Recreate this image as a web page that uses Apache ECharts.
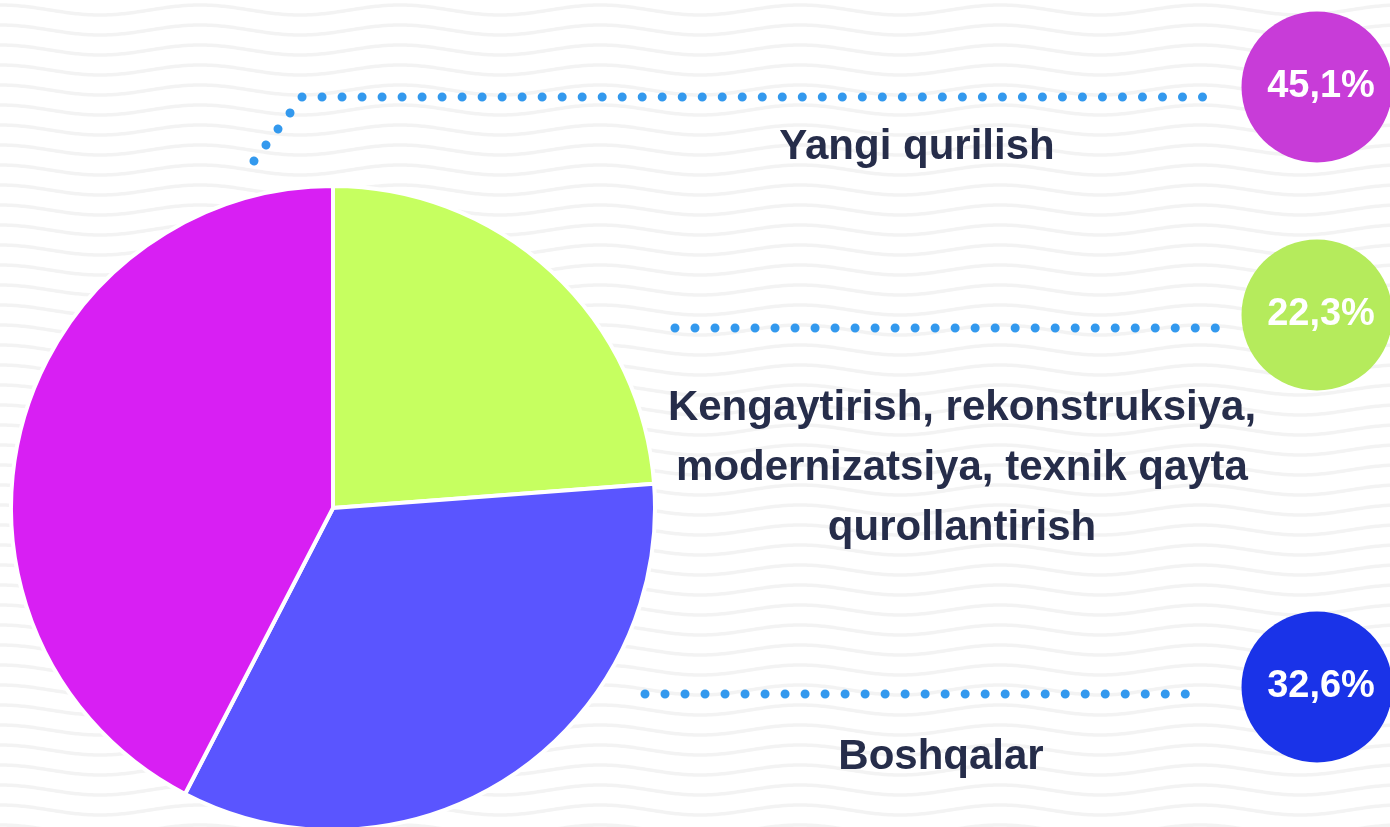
<!DOCTYPE html>
<html>
<head>
<meta charset="utf-8">
<script src="https://cdn.jsdelivr.net/npm/echarts@6/dist/echarts.min.js"></script>
<style>
    html, body { margin: 0; padding: 0; background: #fff; }
    #chart { width: 1390px; height: 827px; }
</style>
</head>
<body>
<div id="chart"></div>
<script>
// data
const categories = [
    "Yangi qurilish",
    "Kengaytirish, rekonstruksiya,\nmodernizatsiya, texnik qayta\nqurollantirish",
    "Boshqalar",
];
// printed percentages
const shareLabels = ["45,1%", "22,3%", "32,6%"];
// slice sizes as drawn in the picture (they don't quite match the printed numbers)
const sliceShares = [42.4, 23.8, 33.8];
// order of slices clockwise from the top
const sliceOrder = [1, 2, 0];

const pieColors = ["#D81FF3", "#C6FF60", "#5A55FF"];
const badgeColors = ["#C83CD8", "#B5EB5C", "#1A33E8"];
const textColor = "#262D4A";
const dotColor = "#3399EE";
const font = "'Liberation Sans', Arial, sans-serif";

// wavy background tile
function waveTile() {
    const c = document.createElement("canvas");
    c.width = 200;
    c.height = 20;
    const ctx = c.getContext("2d");
    ctx.fillStyle = "#fff";
    ctx.fillRect(0, 0, 200, 20);
    ctx.strokeStyle = "#F3F3F3";
    ctx.lineWidth = 3.5;
    ctx.beginPath();
    for (let x = -2; x <= 202; x += 2) {
        const y = 10 - 5 * Math.cos((2 * Math.PI * x) / 200);
        if (x === -2) ctx.moveTo(x, y); else ctx.lineTo(x, y);
    }
    ctx.stroke();
    return c;
}

const badgeY = [87, 315, 687];
const leaders = [
    [[254, 161], [302, 97], [1202.5, 97]],
    [[675, 328], [1215.5, 328]],
    [[645, 694], [1185.5, 694]],
];
const labelPos = [[917, 147], [962, 468], [941, 757]];

const graphics = [];
leaders.forEach((pts) => {
    graphics.push({
        type: "polyline",
        shape: { points: pts },
        style: {
            stroke: dotColor,
            lineWidth: 9,
            lineCap: "round",
            lineJoin: "round",
            lineDash: [0.01, 20],
            fill: null,
        },
        silent: true,
    });
});
shareLabels.forEach((txt, i) => {
    graphics.push({
        type: "circle",
        shape: { cx: 1317, cy: badgeY[i], r: 75.5 },
        style: { fill: badgeColors[i] },
        silent: true,
    });
    graphics.push({
        type: "text",
        x: 1321,
        y: badgeY[i],
        style: {
            text: txt,
            fill: "#fff",
            font: `bold 38px ${font}`,
            textAlign: "center",
            textVerticalAlign: "middle",
        },
        silent: true,
    });
});
categories.forEach((name, i) => {
    graphics.push({
        type: "text",
        x: labelPos[i][0],
        y: labelPos[i][1],
        style: {
            text: name,
            fill: textColor,
            font: `bold 42px ${font}`,
            lineHeight: 60,
            textAlign: "center",
            textVerticalAlign: "middle",
        },
        silent: true,
    });
});

const chart = echarts.init(document.getElementById("chart"));
chart.setOption({
    backgroundColor: { image: waveTile(), repeat: "repeat" },
    animation: false,
    series: [
        {
            type: "pie",
            center: [333, 508],
            radius: 322,
            startAngle: 90,
            clockwise: true,
            silent: true,
            label: { show: false },
            labelLine: { show: false },
            itemStyle: { borderColor: "#fff", borderWidth: 4 },
            data: sliceOrder.map((i) => ({
                name: categories[i],
                value: sliceShares[i],
                itemStyle: { color: pieColors[i] },
            })),
        },
    ],
    graphic: graphics,
});
</script>
</body>
</html>
